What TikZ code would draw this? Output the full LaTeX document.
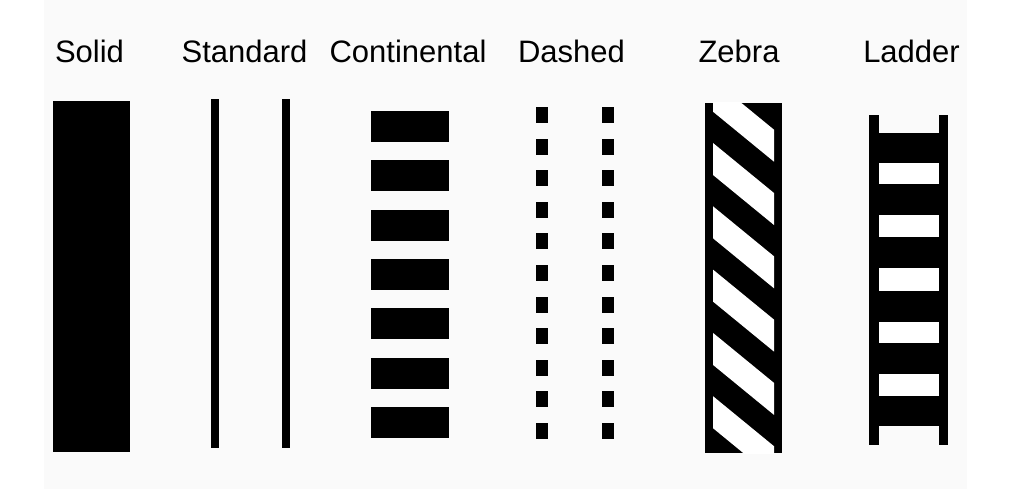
\documentclass[tikz,border=0pt]{standalone}
\usepackage{fontspec}
\setmainfont{Liberation Sans}
\definecolor{bggray}{HTML}{FAFAFA}
\begin{document}
\begin{tikzpicture}[x=1pt,y=-1pt,
  label/.style={anchor=base,inner sep=0pt,font=\fontsize{31}{37}\selectfont},
  ink/.style={fill=black}]
\useasboundingbox (0,0) rectangle (1019,489);
\fill[white] (0,0) rectangle (1019,489);
\fill[bggray] (44,0) rectangle (967,489);
% labels
\node[label] (lsolid) at (89.5,63) {Solid};
\node[label] (lstd) at (244.5,63) {Standard};
\node[label] (lcont) at (408,63) {Continental};
\node[label] (ldash) at (571.5,63) {Dashed};
\node[label] (lzeb) at (739,63) {Zebra};
\node[label] (llad) at (911.5,63) {Ladder};
% solid
\fill[ink] (53,101) rectangle (130,452);
% standard
\fill[ink] (210.5,99) rectangle (218.5,448);
\fill[ink] (281.5,99) rectangle (289.5,448);
% continental
\foreach \k in {0,...,6}
  \fill[ink] (371,{111+49.3*\k}) rectangle (449,{142+49.3*\k});
% dashed
\foreach \k in {0,...,10} {
  \fill[ink] (536,{107+31.6*\k}) rectangle (548,{123+31.6*\k});
  \fill[ink] (602,{107+31.6*\k}) rectangle (614,{123+31.6*\k});
}
% zebra
\fill[ink] (705,103) rectangle (782,453);
\begin{scope}
  \clip (713,103) rectangle (774,453);
  \foreach \k in {-1,...,4}
    \fill[white] (713,{143+63.3*\k}) -- (774,{193+63.3*\k}) -- (774,{225+63.3*\k}) -- (713,{175+63.3*\k}) -- cycle;
\end{scope}
% ladder
\fill[ink] (869,115) rectangle (879,445);
\fill[ink] (939,115) rectangle (948,445);
\fill[ink] (879,133) rectangle (939,426);
\foreach \a/\b in {163/184,215/237,268/291,322/343,374/396}
  \fill[white] (879,\a) rectangle (939,\b);
\end{tikzpicture}
\end{document}
